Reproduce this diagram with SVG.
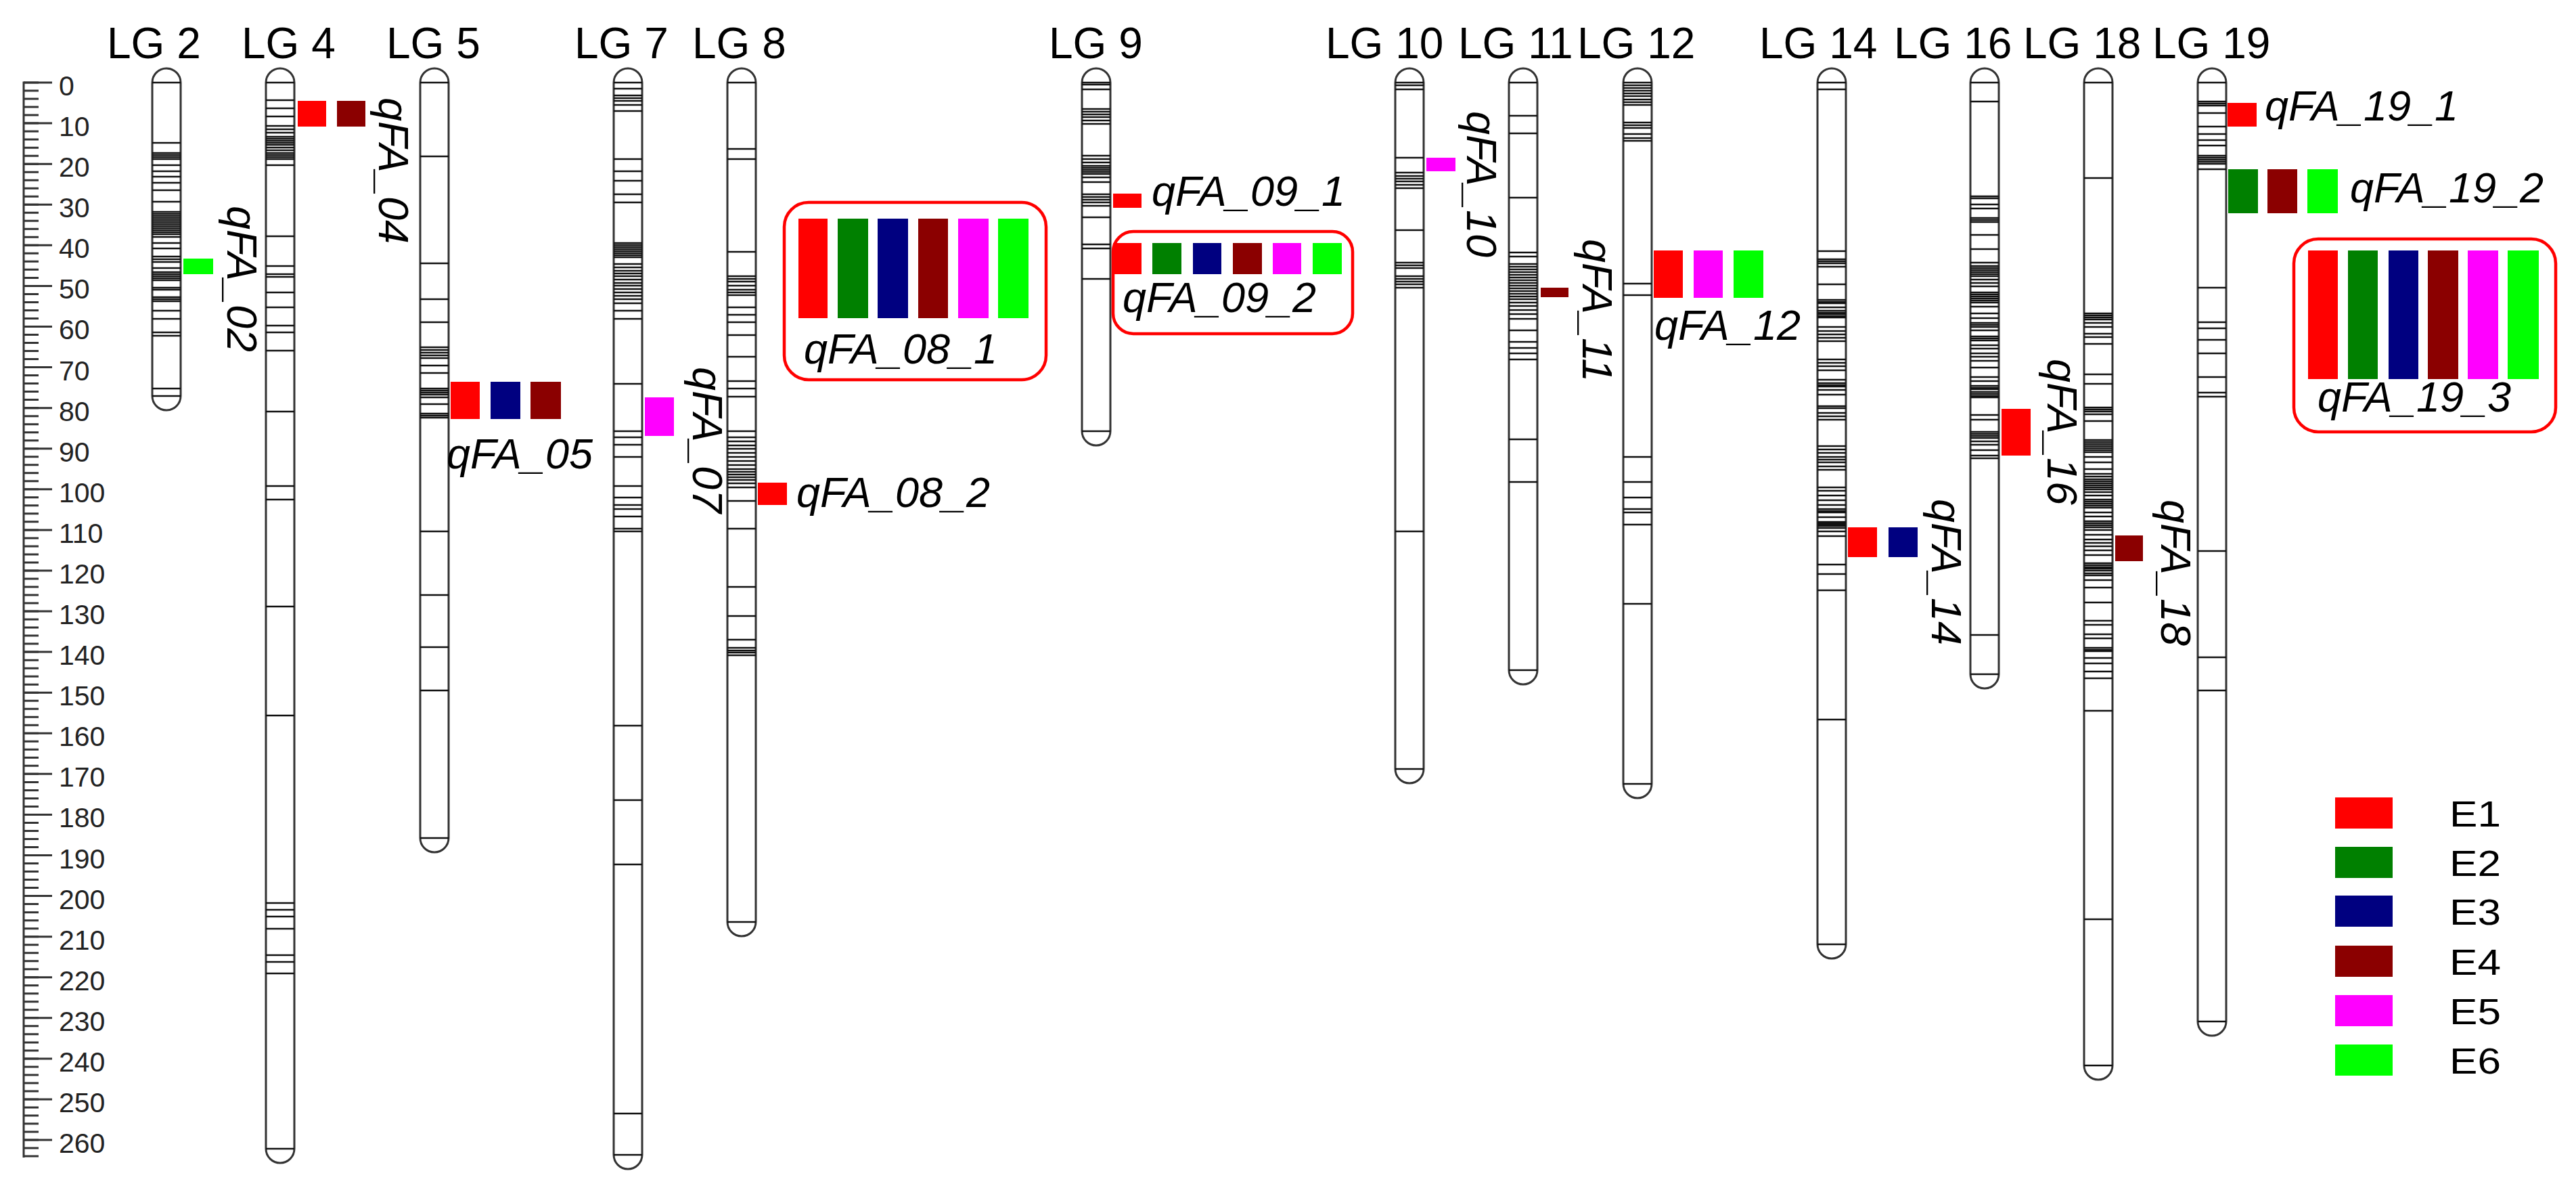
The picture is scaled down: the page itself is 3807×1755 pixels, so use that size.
<svg xmlns="http://www.w3.org/2000/svg" width="3807" height="1755" viewBox="0 0 3807 1755">
<style>
.lg{font-family:"Liberation Sans",Arial,sans-serif;font-size:64px;fill:#000}
.num{font-family:"Liberation Sans",Arial,sans-serif;font-size:41px;fill:#222}
.q{font-family:"Liberation Sans",Arial,sans-serif;font-size:63px;font-style:italic;fill:#000}
.leg{font-family:"Liberation Sans",Arial,sans-serif;font-size:54px;fill:#000}
.chr{fill:#fff;stroke:#333;stroke-width:3}
.mk{fill:none;stroke:#111;stroke-width:2.6}
.box{fill:none;stroke:#f00;stroke-width:4.5}
.e1{fill:#f00}.e2{fill:#008000}.e3{fill:#000080}.e4{fill:#8b0000}.e5{fill:#f0f}.e6{fill:#0f0}
.rl{stroke:#333;fill:none}
</style>
<rect width="3807" height="1755" fill="#fff"/>

<g id="ruler">
<line class="rl" x1="35" y1="120.5" x2="35" y2="1710" stroke-width="3"/>
<line class="rl" x1="46" y1="120.5" x2="46" y2="1710" stroke-width="22" stroke-dasharray="3 9.016"/>
<line class="rl" x1="56" y1="120.5" x2="56" y2="1690" stroke-width="42" stroke-dasharray="3 57.08"/>
<g class="num">
<text x="87" y="141">0</text><text x="87" y="201">10</text><text x="87" y="261">20</text><text x="87" y="321">30</text><text x="87" y="381">40</text><text x="87" y="441">50</text><text x="87" y="501">60</text><text x="87" y="562">70</text><text x="87" y="622">80</text><text x="87" y="682">90</text><text x="87" y="742">100</text><text x="87" y="802">110</text><text x="87" y="862">120</text><text x="87" y="922">130</text><text x="87" y="982">140</text><text x="87" y="1042">150</text><text x="87" y="1102">160</text><text x="87" y="1162">170</text><text x="87" y="1222">180</text><text x="87" y="1283">190</text><text x="87" y="1343">200</text><text x="87" y="1403">210</text><text x="87" y="1463">220</text><text x="87" y="1523">230</text><text x="87" y="1583">240</text><text x="87" y="1643">250</text><text x="87" y="1703">260</text>
</g>
</g>

<g id="titles" class="lg">
<text x="158" y="86">LG 2</text><text x="357" y="86">LG 4</text><text x="571" y="86">LG 5</text><text x="849" y="86">LG 7</text><text x="1023" y="86">LG 8</text><text x="1550" y="86">LG 9</text><text x="1959" y="86">LG 10</text><text x="2155" y="86">LG 11</text><text x="2331" y="86">LG 12</text><text x="2600" y="86">LG 14</text><text x="2799" y="86">LG 16</text><text x="2990" y="86">LG 18</text><text x="3181" y="86">LG 19</text>
</g>

<g id="LG2" transform="translate(225 0)">
<path class="chr" d="M0 122A21 21 0 0 1 42 122V585A21 21 0 0 1 0 585Z"/>
<path class="mk" d="M0 122h42M0 211h42M0 226h42M0 229h42M0 232h42M0 235h42M0 244h42M0 253h42M0 261h42M0 270h42M0 281h42M0 298h42M0 313h42M0 316h42M0 319h42M0 322h42M0 325h42M0 328h42M0 331h42M0 334h42M0 337h42M0 340h42M0 343h42M0 346h42M0 350h42M0 359h42M0 367h42M0 379h42M0 383h42M0 387h42M0 396h42M0 402h42M0 405h42M0 408h42M0 411h42M0 414h42M0 425h42M0 428h42M0 439h42M0 442h42M0 445h42M0 459h42M0 471h42M0 491h42M0 496h42M0 574h42M0 585h42"/>
</g>
<g id="LG4" transform="translate(393 0)">
<path class="chr" d="M0 122A21 21 0 0 1 42 122V1697A21 21 0 0 1 0 1697Z"/>
<path class="mk" d="M0 122h42M0 148h42M0 160h42M0 172h42M0 186h42M0 191h42M0 196h42M0 202h42M0 205h42M0 208h42M0 211h42M0 214h42M0 218h42M0 222h42M0 226h42M0 229h42M0 232h42M0 235h42M0 244h42M0 349h42M0 393h42M0 405h42M0 409h42M0 432h42M0 454h42M0 481h42M0 491h42M0 518h42M0 608h42M0 718h42M0 738h42M0 896h42M0 1057h42M0 1334h42M0 1344h42M0 1354h42M0 1372h42M0 1411h42M0 1421h42M0 1438h42M0 1697h42"/>
</g>
<g id="LG5" transform="translate(621 0)">
<path class="chr" d="M0 122A21 21 0 0 1 42 122V1238A21 21 0 0 1 0 1238Z"/>
<path class="mk" d="M0 122h42M0 231h42M0 389h42M0 442h42M0 476h42M0 513h42M0 517h42M0 521h42M0 525h42M0 529h42M0 540h42M0 551h42M0 574h42M0 577h42M0 580h42M0 583h42M0 587h42M0 597h42M0 611h42M0 614h42M0 617h42M0 785h42M0 879h42M0 956h42M0 1020h42M0 1238h42"/>
</g>
<g id="LG7" transform="translate(907 0)">
<path class="chr" d="M0 122A21 21 0 0 1 42 122V1706A21 21 0 0 1 0 1706Z"/>
<path class="mk" d="M0 122h42M0 131h42M0 141h42M0 145h42M0 149h42M0 155h42M0 164h42M0 235h42M0 253h42M0 267h42M0 287h42M0 299h42M0 359h42M0 362h42M0 365h42M0 368h42M0 371h42M0 374h42M0 377h42M0 380h42M0 390h42M0 395h42M0 400h42M0 404h42M0 408h42M0 413h42M0 418h42M0 422h42M0 427h42M0 432h42M0 437h42M0 442h42M0 448h42M0 459h42M0 471h42M0 567h42M0 637h42M0 646h42M0 657h42M0 675h42M0 718h42M0 735h42M0 746h42M0 752h42M0 763h42M0 781h42M0 785h42M0 1072h42M0 1182h42M0 1277h42M0 1645h42M0 1706h42"/>
</g>
<g id="LG8" transform="translate(1075 0)">
<path class="chr" d="M0 122A21 21 0 0 1 42 122V1362A21 21 0 0 1 0 1362Z"/>
<path class="mk" d="M0 122h42M0 220h42M0 235h42M0 372h42M0 408h42M0 412h42M0 416h42M0 422h42M0 428h42M0 432h42M0 436h42M0 454h42M0 465h42M0 476h42M0 495h42M0 527h42M0 563h42M0 574h42M0 586h42M0 637h42M0 646h42M0 652h42M0 658h42M0 663h42M0 669h42M0 675h42M0 681h42M0 687h42M0 693h42M0 697h42M0 701h42M0 705h42M0 709h42M0 714h42M0 720h42M0 740h42M0 781h42M0 867h42M0 910h42M0 945h42M0 957h42M0 961h42M0 964h42M0 968h42M0 1362h42"/>
</g>
<g id="LG9" transform="translate(1599 0)">
<path class="chr" d="M0 122A21 21 0 0 1 42 122V637A21 21 0 0 1 0 637Z"/>
<path class="mk" d="M0 122h42M0 125h42M0 132h42M0 161h42M0 165h42M0 169h42M0 173h42M0 178h42M0 183h42M0 230h42M0 235h42M0 240h42M0 245h42M0 248h42M0 251h42M0 254h42M0 257h42M0 262h42M0 269h42M0 287h42M0 291h42M0 295h42M0 299h42M0 304h42M0 321h42M0 361h42M0 367h42M0 412h42M0 637h42"/>
</g>
<g id="LG10" transform="translate(2062 0)">
<path class="chr" d="M0 122A21 21 0 0 1 42 122V1136A21 21 0 0 1 0 1136Z"/>
<path class="mk" d="M0 122h42M0 126h42M0 132h42M0 233h42M0 255h42M0 260h42M0 264h42M0 268h42M0 273h42M0 278h42M0 340h42M0 388h42M0 392h42M0 396h42M0 408h42M0 412h42M0 416h42M0 420h42M0 425h42M0 785h42M0 1136h42"/>
</g>
<g id="LG11" transform="translate(2230 0)">
<path class="chr" d="M0 122A21 21 0 0 1 42 122V990A21 21 0 0 1 0 990Z"/>
<path class="mk" d="M0 122h42M0 171h42M0 197h42M0 292h42M0 373h42M0 379h42M0 390h42M0 394h42M0 398h42M0 402h42M0 406h42M0 410h42M0 414h42M0 418h42M0 422h42M0 426h42M0 430h42M0 434h42M0 438h42M0 442h42M0 447h42M0 452h42M0 458h42M0 464h42M0 471h42M0 488h42M0 505h42M0 514h42M0 522h42M0 531h42M0 649h42M0 712h42M0 990h42"/>
</g>
<g id="LG12" transform="translate(2399 0)">
<path class="chr" d="M0 122A21 21 0 0 1 42 122V1158A21 21 0 0 1 0 1158Z"/>
<path class="mk" d="M0 122h42M0 126h42M0 130h42M0 134h42M0 138h42M0 142h42M0 147h42M0 151h42M0 155h42M0 181h42M0 185h42M0 189h42M0 198h42M0 204h42M0 208h42M0 419h42M0 436h42M0 675h42M0 712h42M0 735h42M0 752h42M0 757h42M0 775h42M0 892h42M0 1158h42"/>
</g>
<g id="LG14" transform="translate(2686 0)">
<path class="chr" d="M0 122A21 21 0 0 1 42 122V1395A21 21 0 0 1 0 1395Z"/>
<path class="mk" d="M0 122h42M0 132h42M0 371h42M0 383h42M0 386h42M0 389h42M0 394h42M0 420h42M0 443h42M0 446h42M0 448h42M0 454h42M0 459h42M0 462h42M0 464h42M0 467h42M0 469h42M0 483h42M0 489h42M0 494h42M0 499h42M0 504h42M0 531h42M0 536h42M0 541h42M0 547h42M0 561h42M0 566h42M0 569h42M0 571h42M0 576h42M0 583h42M0 600h42M0 603h42M0 610h42M0 615h42M0 620h42M0 659h42M0 664h42M0 669h42M0 675h42M0 679h42M0 683h42M0 689h42M0 694h42M0 720h42M0 725h42M0 732h42M0 739h42M0 746h42M0 752h42M0 755h42M0 757h42M0 764h42M0 771h42M0 773h42M0 775h42M0 777h42M0 780h42M0 785h42M0 792h42M0 834h42M0 848h42M0 872h42M0 1063h42M0 1395h42"/>
</g>
<g id="LG16" transform="translate(2912 0)">
<path class="chr" d="M0 122A21 21 0 0 1 42 122V996A21 21 0 0 1 0 996Z"/>
<path class="mk" d="M0 122h42M0 150h42M0 290h42M0 293h42M0 302h42M0 308h42M0 322h42M0 325h42M0 328h42M0 347h42M0 368h42M0 388h42M0 393h42M0 396h42M0 399h42M0 402h42M0 405h42M0 408h42M0 413h42M0 418h42M0 423h42M0 432h42M0 435h42M0 438h42M0 441h42M0 444h42M0 447h42M0 453h42M0 463h42M0 470h42M0 477h42M0 480h42M0 483h42M0 488h42M0 497h42M0 500h42M0 503h42M0 510h42M0 515h42M0 522h42M0 527h42M0 533h42M0 543h42M0 557h42M0 563h42M0 570h42M0 573h42M0 575h42M0 579h42M0 582h42M0 585h42M0 587h42M0 613h42M0 620h42M0 638h42M0 641h42M0 644h42M0 647h42M0 652h42M0 657h42M0 665h42M0 673h42M0 677h42M0 938h42M0 996h42"/>
</g>
<g id="LG18" transform="translate(3080 0)">
<path class="chr" d="M0 122A21 21 0 0 1 42 122V1574A21 21 0 0 1 0 1574Z"/>
<path class="mk" d="M0 122h42M0 263h42M0 463h42M0 466h42M0 469h42M0 472h42M0 477h42M0 483h42M0 493h42M0 498h42M0 508h42M0 553h42M0 567h42M0 602h42M0 605h42M0 608h42M0 612h42M0 622h42M0 650h42M0 653h42M0 656h42M0 659h42M0 662h42M0 665h42M0 668h42M0 675h42M0 683h42M0 693h42M0 700h42M0 704h42M0 708h42M0 711h42M0 714h42M0 717h42M0 720h42M0 723h42M0 727h42M0 732h42M0 738h42M0 741h42M0 744h42M0 747h42M0 750h42M0 757h42M0 763h42M0 770h42M0 773h42M0 776h42M0 779h42M0 783h42M0 790h42M0 797h42M0 802h42M0 807h42M0 813h42M0 820h42M0 832h42M0 835h42M0 838h42M0 840h42M0 843h42M0 847h42M0 850h42M0 857h42M0 868h42M0 890h42M0 917h42M0 923h42M0 937h42M0 943h42M0 957h42M0 960h42M0 962h42M0 972h42M0 980h42M0 992h42M0 1002h42M0 1050h42M0 1358h42M0 1574h42"/>
</g>
<g id="LG19" transform="translate(3248 0)">
<path class="chr" d="M0 122A21 21 0 0 1 42 122V1509A21 21 0 0 1 0 1509Z"/>
<path class="mk" d="M0 122h42M0 150h42M0 153h42M0 156h42M0 167h42M0 187h42M0 198h42M0 207h42M0 215h42M0 230h42M0 233h42M0 236h42M0 239h42M0 242h42M0 250h42M0 425h42M0 476h42M0 485h42M0 502h42M0 522h42M0 557h42M0 580h42M0 586h42M0 814h42M0 971h42M0 1020h42M0 1509h42"/>
</g>

<g id="qFA_02"><rect class="e6" x="271" y="382" width="44" height="23"/><text class="q" transform="translate(336 304) rotate(90)">qFA_02</text></g>
<g id="qFA_04"><rect class="e1" x="440" y="149" width="42" height="38"/><rect class="e4" x="498" y="149" width="42" height="38"/><text class="q" transform="translate(560 144) rotate(90)">qFA_04</text></g>
<g id="qFA_05"><rect class="e1" x="666" y="564" width="43" height="55"/><rect class="e3" x="725" y="564" width="44" height="55"/><rect class="e4" x="784" y="564" width="45" height="55"/><text class="q" x="660" y="692">qFA_05</text></g>
<g id="qFA_07"><rect class="e5" x="953" y="587" width="43" height="57"/><text class="q" transform="translate(1024 542) rotate(90)">qFA_07</text></g>
<g id="qFA_08_1"><rect class="box" x="1159" y="299" width="387" height="262" rx="36"/><rect class="e1" x="1180" y="323" width="43" height="147"/><rect class="e2" x="1238" y="323" width="45" height="147"/><rect class="e3" x="1297" y="323" width="45" height="147"/><rect class="e4" x="1357" y="323" width="44" height="147"/><rect class="e5" x="1416" y="323" width="45" height="147"/><rect class="e6" x="1475" y="323" width="45" height="147"/><text class="q" x="1188" y="537">qFA_08_1</text></g>
<g id="qFA_08_2"><rect class="e1" x="1120" y="713" width="43" height="33"/><text class="q" x="1177" y="749">qFA_08_2</text></g>
<g id="qFA_09_1"><rect class="e1" x="1645" y="286" width="42" height="21"/><text class="q" x="1702" y="304">qFA_09_1</text></g>
<g id="qFA_09_2"><rect class="box" x="1645" y="342" width="354" height="151" rx="30"/><rect class="e1" x="1645" y="359" width="42" height="46"/><rect class="e2" x="1703" y="359" width="43" height="46"/><rect class="e3" x="1763" y="359" width="42" height="46"/><rect class="e4" x="1822" y="359" width="43" height="46"/><rect class="e5" x="1881" y="359" width="42" height="46"/><rect class="e6" x="1940" y="359" width="43" height="46"/><text class="q" x="1659" y="461">qFA_09_2</text></g>
<g id="qFA_10"><rect class="e5" x="2108" y="233" width="43" height="20"/><text class="q" transform="translate(2168 164) rotate(90)">qFA_10</text></g>
<g id="qFA_11"><rect class="e4" x="2277" y="425" width="41" height="14"/><text class="q" transform="translate(2339 353) rotate(90)">qFA_11</text></g>
<g id="qFA_12"><rect class="e1" x="2444" y="370" width="43" height="70"/><rect class="e5" x="2503" y="370" width="43" height="70"/><rect class="e6" x="2562" y="370" width="44" height="70"/><text class="q" x="2445" y="502">qFA_12</text></g>
<g id="qFA_14"><rect class="e1" x="2731" y="779" width="43" height="44"/><rect class="e3" x="2791" y="779" width="43" height="44"/><text class="q" transform="translate(2855 737) rotate(90)">qFA_14</text></g>
<g id="qFA_16"><rect class="e1" x="2958" y="604" width="43" height="69"/><text class="q" transform="translate(3026 530) rotate(90)">qFA_16</text></g>
<g id="qFA_18"><rect class="e4" x="3126" y="791" width="41" height="38"/><text class="q" transform="translate(3194 738) rotate(90)">qFA_18</text></g>
<g id="qFA_19_1"><rect class="e1" x="3292" y="152" width="43" height="35"/><text class="q" x="3347" y="178">qFA_19_1</text></g>
<g id="qFA_19_2"><rect class="e2" x="3293" y="250" width="44" height="65"/><rect class="e4" x="3351" y="250" width="44" height="65"/><rect class="e6" x="3410" y="250" width="45" height="65"/><text class="q" x="3473" y="299">qFA_19_2</text></g>
<g id="qFA_19_3"><rect class="box" x="3390" y="353" width="387" height="285" rx="36"/><rect class="e1" x="3411" y="370" width="44" height="190"/><rect class="e2" x="3470" y="370" width="44" height="190"/><rect class="e3" x="3530" y="370" width="44" height="190"/><rect class="e4" x="3588" y="370" width="45" height="190"/><rect class="e5" x="3647" y="370" width="45" height="190"/><rect class="e6" x="3706" y="370" width="46" height="190"/><text class="q" x="3425" y="608">qFA_19_3</text></g>

<g id="legend">
<rect class="e1" x="3451" y="1178" width="85" height="46"/><text class="leg" x="3620" y="1221" textLength="76" lengthAdjust="spacingAndGlyphs">E1</text>
<rect class="e2" x="3451" y="1251" width="85" height="46"/><text class="leg" x="3620" y="1294" textLength="76" lengthAdjust="spacingAndGlyphs">E2</text>
<rect class="e3" x="3451" y="1323" width="85" height="46"/><text class="leg" x="3620" y="1366" textLength="76" lengthAdjust="spacingAndGlyphs">E3</text>
<rect class="e4" x="3451" y="1397" width="85" height="46"/><text class="leg" x="3620" y="1440" textLength="76" lengthAdjust="spacingAndGlyphs">E4</text>
<rect class="e5" x="3451" y="1470" width="85" height="46"/><text class="leg" x="3620" y="1513" textLength="76" lengthAdjust="spacingAndGlyphs">E5</text>
<rect class="e6" x="3451" y="1543" width="85" height="46"/><text class="leg" x="3620" y="1586" textLength="76" lengthAdjust="spacingAndGlyphs">E6</text>
</g>
</svg>
